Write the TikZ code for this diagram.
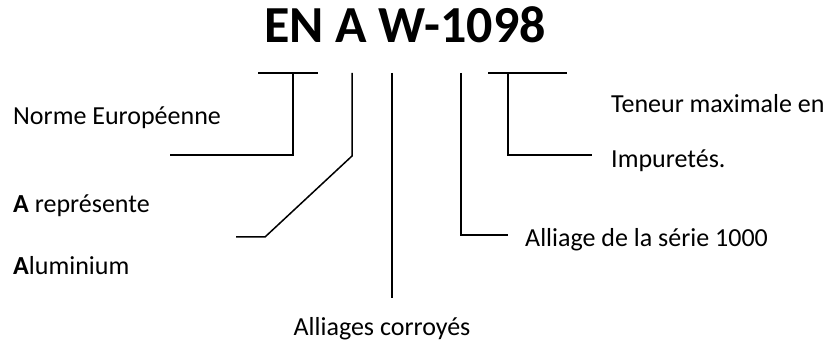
\documentclass[tikz,border=0pt]{standalone}
\usepackage{fontspec}
\setmainfont{Carlito}
\begin{document}
\begin{tikzpicture}[x=1pt,y=-1pt,
  lbl/.style={anchor=base west,inner sep=0pt,font=\fontsize{26}{30}\selectfont},
  wire/.style={line width=1.5pt,line join=miter}]
\useasboundingbox (0,0) rectangle (840,344);
% designation
\node[anchor=base,inner sep=0pt,font=\fontsize{52}{56}\selectfont\bfseries] (title) at (405,43) {EN A W-1098};
% labels
\node[lbl] (norme) at (13,125) {Norme Européenne};
\node[lbl] (arep) at (13,213) {\textbf{A} représente};
\node[lbl] (alu) at (13,275) {\textbf{A}luminium};
\node[anchor=base,inner sep=0pt,font=\fontsize{26}{30}\selectfont] (corr) at (382,335) {Alliages corroyés};
\node[lbl] (serie) at (525,247) {Alliage de la série 1000};
\node[lbl] (teneur) at (611,113) {Teneur maximale en};
\node[lbl] (impur) at (611,168) {Impuretés.};
% connector points
\coordinate (enL) at (258,73); \coordinate (enR) at (318,73); \coordinate (enT) at (293,73);
\coordinate (enB) at (293,155); \coordinate (enE) at (170,155);
\coordinate (aT) at (352,73); \coordinate (aB) at (352,156); \coordinate (aK) at (265,237); \coordinate (aE) at (236,237);
\coordinate (wT) at (392,73); \coordinate (wB) at (392,298);
\coordinate (sT) at (461,73); \coordinate (sB) at (461,235); \coordinate (sE) at (508,235);
\coordinate (nL) at (488,73); \coordinate (nR) at (567,73); \coordinate (nT) at (508,73);
\coordinate (nB) at (508,155); \coordinate (nE) at (592,155);
% brackets and leaders
\draw[wire] (enL) -- (enR);
\draw[wire] (enT) -- (enB) -- (enE);
\draw[wire] (aT) -- (aB) -- (aK) -- (aE);
\draw[wire] (wT) -- (wB);
\draw[wire] (sT) -- (sB) -- (sE);
\draw[wire] (nL) -- (nR);
\draw[wire] (nT) -- (nB) -- (nE);
\end{tikzpicture}
\end{document}
